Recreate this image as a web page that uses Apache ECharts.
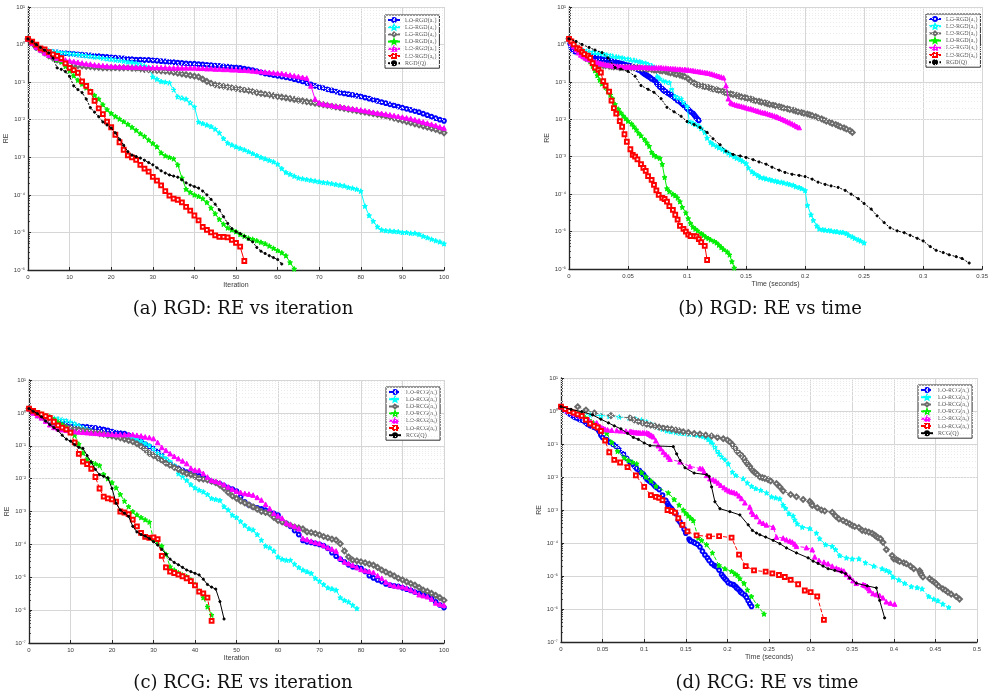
<!DOCTYPE html>
<html><head><meta charset="utf-8">
<script src="https://cdn.jsdelivr.net/npm/echarts@6/dist/echarts.min.js"></script>
<style>html,body{margin:0;padding:0;background:#fff}#c{width:991px;height:695px}</style>
</head><body><div id="c"></div>
<script>
// ---------- Names ----------
const namesRGD = ['LO-RGD(a₁)','LO-RGD(a₂)','LO-RGD(a₃)','LO-RGD(a₄)','LO-RGD(a₅)','LO-RGD(a₆)','RGD(Q)'];
const namesRCG = ['LO-RCG(a₁)','LO-RCG(a₂)','LO-RCG(a₃)','LO-RCG(a₄)','LO-RCG(a₅)','LO-RCG(a₆)','RCG(Q)'];
const captions = ['(a) RGD: RE vs iteration','(b) RGD: RE vs time','(c) RCG: RE vs iteration','(d) RCG: RE vs time'];

// ---------- RGD: log10(RE) per iteration ----------
const rgd_a1 = [0.15,0.02,-0.08,-0.13,-0.16,-0.19,-0.2,-0.21,-0.22,-0.23,
-0.24,-0.25,-0.26,-0.27,-0.28,-0.29,-0.3,-0.31,-0.32,-0.33,
-0.34,-0.35,-0.36,-0.37,-0.38,-0.39,-0.4,-0.4,-0.41,-0.41,
-0.42,-0.43,-0.44,-0.45,-0.46,-0.47,-0.48,-0.49,-0.5,-0.51,
-0.51,-0.52,-0.53,-0.54,-0.55,-0.56,-0.57,-0.58,-0.59,-0.6,
-0.61,-0.62,-0.64,-0.66,-0.68,-0.71,-0.74,-0.77,-0.79,-0.81,
-0.83,-0.85,-0.87,-0.89,-0.92,-0.95,-0.98,-1.02,-1.06,-1.1,
-1.13,-1.16,-1.19,-1.22,-1.25,-1.28,-1.3,-1.32,-1.34,-1.36,
-1.38,-1.41,-1.44,-1.47,-1.5,-1.53,-1.56,-1.59,-1.62,-1.65,
-1.68,-1.71,-1.74,-1.77,-1.8,-1.84,-1.88,-1.92,-1.96,-2.0,-2.03];
const rgd_a2 = [0.15,0.05,-0.04,-0.1,-0.13,-0.16,-0.18,-0.2,-0.21,-0.22,
-0.24,-0.25,-0.27,-0.28,-0.3,-0.31,-0.33,-0.34,-0.36,-0.38,
-0.39,-0.41,-0.42,-0.44,-0.46,-0.48,-0.5,-0.53,-0.56,-0.6,
-0.86,-0.92,-0.98,-1.0,-1.02,-1.2,-1.39,-1.42,-1.45,-1.55,
-1.66,-2.06,-2.1,-2.14,-2.18,-2.25,-2.35,-2.5,-2.62,-2.67,
-2.72,-2.76,-2.8,-2.85,-2.9,-2.95,-3.0,-3.04,-3.08,-3.12,
-3.18,-3.3,-3.4,-3.45,-3.5,-3.55,-3.57,-3.59,-3.61,-3.63,
-3.65,-3.67,-3.68,-3.7,-3.72,-3.74,-3.76,-3.8,-3.82,-3.85,
-3.9,-4.3,-4.55,-4.7,-4.85,-4.93,-4.95,-4.96,-4.97,-4.98,
-5.0,-5.0,-5.02,-5.02,-5.05,-5.1,-5.14,-5.18,-5.22,-5.25,-5.3];
const rgd_a3 = [0.15,0.03,-0.07,-0.15,-0.22,-0.3,-0.36,-0.41,-0.45,-0.49,
-0.52,-0.54,-0.56,-0.57,-0.58,-0.59,-0.6,-0.61,-0.62,-0.62,
-0.62,-0.62,-0.62,-0.62,-0.62,-0.63,-0.64,-0.65,-0.66,-0.67,
-0.68,-0.69,-0.7,-0.71,-0.72,-0.74,-0.76,-0.78,-0.8,-0.82,
-0.84,-0.86,-0.92,-0.98,-1.03,-1.07,-1.09,-1.11,-1.13,-1.15,
-1.17,-1.19,-1.21,-1.23,-1.25,-1.28,-1.3,-1.32,-1.34,-1.36,
-1.38,-1.4,-1.42,-1.44,-1.46,-1.48,-1.5,-1.52,-1.54,-1.56,
-1.58,-1.6,-1.62,-1.64,-1.66,-1.68,-1.7,-1.72,-1.74,-1.76,
-1.78,-1.8,-1.82,-1.84,-1.86,-1.88,-1.9,-1.93,-1.96,-1.99,
-2.02,-2.05,-2.08,-2.11,-2.14,-2.17,-2.2,-2.23,-2.26,-2.3,-2.35];
const rgd_a4 = [0.15,0.08,0.0,-0.1,-0.18,-0.27,-0.33,-0.4,-0.46,-0.58,
-0.7,-0.83,-0.95,-1.05,-1.15,-1.24,-1.35,-1.45,-1.6,-1.73,
-1.83,-1.91,-1.98,-2.05,-2.12,-2.2,-2.28,-2.37,-2.44,-2.54,
-2.63,-2.72,-2.88,-2.96,-3.0,-3.04,-3.2,-3.55,-3.85,-3.93,
-4.0,-4.04,-4.1,-4.2,-4.35,-4.5,-4.65,-4.78,-4.88,-4.93,
-4.98,-5.05,-5.1,-5.15,-5.18,-5.22,-5.26,-5.3,-5.36,-5.42,
-5.48,-5.54,-5.62,-5.8,-5.97];
const rgd_a5 = [0.15,0.04,-0.06,-0.14,-0.22,-0.28,-0.32,-0.36,-0.39,-0.41,
-0.43,-0.45,-0.47,-0.49,-0.51,-0.52,-0.54,-0.55,-0.56,-0.57,
-0.58,-0.58,-0.59,-0.59,-0.6,-0.6,-0.6,-0.6,-0.61,-0.61,
-0.61,-0.61,-0.61,-0.61,-0.62,-0.62,-0.62,-0.62,-0.62,-0.62,
-0.62,-0.63,-0.63,-0.64,-0.64,-0.65,-0.65,-0.66,-0.66,-0.67,
-0.67,-0.68,-0.68,-0.69,-0.7,-0.71,-0.72,-0.73,-0.74,-0.75,
-0.76,-0.77,-0.79,-0.81,-0.83,-0.85,-0.87,-0.89,-1.1,-1.45,
-1.55,-1.58,-1.6,-1.62,-1.64,-1.65,-1.67,-1.69,-1.71,-1.72,
-1.74,-1.76,-1.78,-1.8,-1.82,-1.83,-1.85,-1.87,-1.89,-1.91,
-1.93,-1.95,-1.97,-2.0,-2.03,-2.06,-2.09,-2.12,-2.15,-2.19,-2.22];
const rgd_a6 = [0.15,0.08,0.0,-0.1,-0.13,-0.2,-0.26,-0.3,-0.36,-0.5,
-0.62,-0.68,-0.75,-0.98,-1.1,-1.26,-1.5,-1.7,-1.85,-2.05,
-2.2,-2.4,-2.6,-2.8,-2.95,-3.0,-3.07,-3.2,-3.3,-3.38,
-3.52,-3.62,-3.75,-3.9,-4.02,-4.1,-4.13,-4.2,-4.32,-4.42,
-4.55,-4.68,-4.85,-4.93,-5.0,-5.08,-5.12,-5.12,-5.13,-5.2,
-5.28,-5.38,-5.76];
const rgd_Q = [0.15,0.08,0.0,-0.08,-0.15,-0.22,-0.36,-0.62,-0.66,-0.72,
-0.85,-1.1,-1.2,-1.28,-1.45,-1.68,-1.8,-1.92,-2.06,-2.14,
-2.22,-2.35,-2.52,-2.68,-2.85,-2.94,-2.98,-3.02,-3.08,-3.14,
-3.2,-3.28,-3.36,-3.42,-3.47,-3.5,-3.53,-3.6,-3.68,-3.74,
-3.78,-3.82,-3.9,-4.0,-4.12,-4.25,-4.4,-4.58,-4.76,-4.9,
-4.98,-5.03,-5.1,-5.18,-5.25,-5.4,-5.5,-5.56,-5.62,-5.67,
-5.72,-5.84];

// ---------- RGD: elapsed time per iteration (ms) ----------
const rgdT_a1 = [0,1,2,3,4,5,7,8,9,10,11,12,13,14,15,17,18,19,20,21,22,23,24,25,26,28,29,30,31,32,33,34,35,36,37,39,40,41,42,43,44,45,46,47,48,50,51,52,53,54,55,56,57,58,59,61,62,63,64,65,66,67,68,69,70,72,73,74,75,76,77,78,79,80,81,83,84,85,86,87,88,89,90,91,92,94,95,96,97,98,99,100,101,102,103,105,106,107,108,109,110];
const rgdT_a2 = [0,2,5,7,10,12,15,17,20,22,25,27,30,32,35,37,40,42,45,47,50,52,55,57,60,62,65,67,70,72,75,77,80,82,85,87,90,92,95,97,100,102,105,107,110,112,115,117,120,122,125,127,130,132,135,137,140,142,145,147,150,152,155,157,160,162,165,167,170,172,175,177,180,182,185,187,190,192,195,197,200,202,205,207,210,212,215,217,220,222,225,227,230,232,235,237,240,242,245,247,250];
const rgdT_a3 = [0,2,5,7,10,12,14,17,19,22,24,26,29,31,34,36,38,41,43,46,48,50,53,55,58,60,62,65,67,70,72,74,77,79,82,84,86,89,91,94,96,98,101,103,106,108,110,113,115,118,120,122,125,127,130,132,134,137,139,142,144,146,149,151,154,156,158,161,163,166,168,170,173,175,178,180,182,185,187,190,192,194,197,199,202,204,206,209,211,214,216,218,221,223,226,228,230,233,235,238,240];
const rgdT_a4 = [0,2,4,7,9,11,13,15,18,20,22,24,26,28,31,33,35,37,39,42,44,46,48,50,53,55,57,59,61,64,66,68,70,72,74,77,79,81,83,85,88,90,92,94,96,99,101,103,105,107,109,112,114,116,118,120,123,125,127,129,131,134,136,138,140];
const rgdT_a5 = [0,2,4,6,8,10,12,14,16,18,20,21,23,25,27,29,31,33,35,37,39,41,43,45,47,49,51,53,55,57,59,60,62,64,66,68,70,72,74,76,78,80,82,84,86,88,90,92,94,96,98,99,101,103,105,107,109,111,113,115,117,119,121,123,125,127,129,131,133,135,137,138,140,142,144,146,148,150,152,154,156,158,160,162,164,166,168,170,172,174,176,177,179,181,183,185,187,189,191,193,195];
const rgdT_a6 = [0,2,4,7,9,11,13,16,18,20,22,25,27,29,31,34,36,38,40,43,45,47,49,52,54,56,58,61,63,65,67,70,72,74,76,79,81,83,85,88,90,92,94,97,99,101,103,106,108,110,112,115,117];
const rgdT_Q = [0,6,11,17,22,28,33,39,44,50,56,61,67,72,78,83,89,95,100,106,111,117,122,128,133,139,145,150,156,161,167,172,178,183,189,195,200,206,211,217,222,228,234,239,245,250,256,261,267,272,278,284,289,295,300,306,311,317,322,328,333,339];

// ---------- RCG: log10(RE) per iteration ----------
const rcg_a1 = [0.13,0.02,-0.04,-0.1,-0.14,-0.18,-0.2,-0.23,-0.26,-0.28,
-0.33,-0.37,-0.4,-0.42,-0.43,-0.45,-0.46,-0.48,-0.5,-0.53,
-0.57,-0.6,-0.62,-0.63,-0.68,-0.73,-0.8,-0.87,-0.95,-1.02,
-1.09,-1.18,-1.3,-1.44,-1.55,-1.63,-1.69,-1.75,-1.8,-1.86,
-1.9,-1.92,-1.96,-2.02,-2.08,-2.12,-2.16,-2.22,-2.28,-2.32,
-2.38,-2.55,-2.71,-2.8,-2.86,-2.89,-2.92,-2.96,-3.01,-3.06,
-3.11,-3.3,-3.36,-3.45,-3.58,-3.7,-3.88,-3.92,-3.94,-3.97,
-4.0,-4.04,-4.12,-4.25,-4.36,-4.45,-4.53,-4.62,-4.68,-4.7,
-4.73,-4.82,-4.95,-5.02,-5.08,-5.13,-5.2,-5.24,-5.26,-5.28,
-5.32,-5.36,-5.4,-5.45,-5.49,-5.53,-5.58,-5.65,-5.75,-5.84,-5.92];
const rcg_a2 = [0.13,0.05,-0.02,-0.08,-0.12,-0.14,-0.16,-0.18,-0.21,-0.24,
-0.27,-0.33,-0.39,-0.45,-0.5,-0.55,-0.6,-0.63,-0.65,-0.67,
-0.68,-0.7,-0.71,-0.73,-0.75,-0.77,-0.8,-0.86,-0.93,-0.99,
-1.1,-1.22,-1.3,-1.39,-1.48,-1.6,-1.85,-1.95,-2.05,-2.18,
-2.28,-2.35,-2.4,-2.48,-2.6,-2.63,-2.66,-2.85,-2.95,-3.11,
-3.18,-3.3,-3.42,-3.52,-3.56,-3.7,-3.87,-4.05,-4.1,-4.2,
-4.38,-4.45,-4.48,-4.48,-4.6,-4.7,-4.78,-4.83,-4.88,-5.03,
-5.12,-5.22,-5.32,-5.35,-5.39,-5.62,-5.7,-5.75,-5.85,-5.95];
const rcg_a3 = [0.13,0.03,-0.06,-0.14,-0.21,-0.27,-0.32,-0.36,-0.4,-0.43,
-0.46,-0.49,-0.51,-0.53,-0.55,-0.58,-0.6,-0.63,-0.65,-0.68,
-0.7,-0.73,-0.76,-0.8,-0.84,-0.88,-0.94,-1.02,-1.12,-1.23,
-1.3,-1.37,-1.45,-1.53,-1.6,-1.66,-1.72,-1.79,-1.85,-1.88,
-1.93,-2.0,-2.02,-2.04,-2.08,-2.12,-2.2,-2.3,-2.42,-2.53,
-2.6,-2.68,-2.74,-2.8,-2.86,-2.93,-3.0,-3.03,-3.07,-3.18,
-3.27,-3.32,-3.37,-3.42,-3.47,-3.5,-3.53,-3.62,-3.64,-3.67,
-3.71,-3.76,-3.8,-3.84,-3.87,-3.98,-4.2,-4.38,-4.48,-4.5,
-4.53,-4.56,-4.6,-4.63,-4.7,-4.78,-4.84,-4.9,-4.96,-5.03,
-5.08,-5.14,-5.19,-5.24,-5.31,-5.39,-5.43,-5.49,-5.55,-5.62,-5.7];
const rcg_a4 = [0.13,0.06,0.0,-0.04,-0.08,-0.12,-0.2,-0.28,-0.36,-0.45,
-0.55,-0.68,-0.95,-1.22,-1.42,-1.5,-1.55,-1.6,-1.87,-2.0,
-2.12,-2.28,-2.48,-2.68,-2.85,-3.0,-3.1,-3.18,-3.25,-3.32,
-3.85,-3.92,-4.05,-4.3,-4.68,-4.78,-4.86,-4.93,-4.98,-5.08,
-5.22,-5.42,-5.62,-5.9,-6.15];
const rcg_a5 = [0.13,0.0,-0.08,-0.15,-0.25,-0.36,-0.44,-0.48,-0.51,-0.53,
-0.55,-0.57,-0.58,-0.59,-0.6,-0.61,-0.62,-0.63,-0.64,-0.65,
-0.65,-0.66,-0.66,-0.66,-0.66,-0.66,-0.68,-0.7,-0.73,-0.75,
-0.78,-0.9,-1.05,-1.14,-1.24,-1.32,-1.39,-1.46,-1.54,-1.68,
-1.74,-1.75,-1.84,-1.95,-2.05,-2.08,-2.12,-2.18,-2.25,-2.32,
-2.38,-2.42,-2.45,-2.47,-2.5,-2.57,-2.65,-2.78,-2.91,-3.05,
-3.13,-3.2,-3.35,-3.4,-3.45,-3.52,-3.82,-3.85,-3.9,-3.94,
-3.97,-4.03,-4.1,-4.14,-4.2,-4.42,-4.53,-4.58,-4.63,-4.7,
-4.76,-4.8,-4.82,-4.85,-4.95,-5.03,-5.14,-5.22,-5.26,-5.28,
-5.29,-5.33,-5.38,-5.44,-5.53,-5.56,-5.59,-5.66,-5.78,-5.82,-5.85];
const rcg_a6 = [0.13,0.06,0.0,-0.05,-0.1,-0.15,-0.27,-0.38,-0.45,-0.5,
-0.6,-0.9,-1.25,-1.48,-1.56,-1.7,-1.95,-2.3,-2.55,-2.6,
-2.63,-2.7,-3.0,-3.03,-3.08,-3.25,-3.45,-3.65,-3.77,-3.8,
-3.79,-3.84,-4.35,-4.7,-4.83,-4.87,-4.92,-4.97,-5.03,-5.12,
-5.25,-5.44,-5.49,-5.62,-6.33];
const rcg_Q = [0.13,0.05,-0.02,-0.12,-0.25,-0.36,-0.45,-0.54,-0.68,-0.8,
-0.86,-0.97,-1.05,-1.08,-1.3,-1.5,-1.72,-1.88,-1.93,-1.98,
-2.3,-2.75,-2.96,-3.05,-3.15,-3.45,-3.62,-3.7,-3.75,-3.82,
-3.92,-4.02,-4.15,-4.3,-4.45,-4.55,-4.62,-4.7,-4.78,-4.83,
-4.88,-4.93,-5.06,-5.22,-5.3,-5.36,-5.74,-6.27];

// ---------- RCG: elapsed time per iteration (s) ----------
const rcgT_a1 = [0,0.005,0.008,0.011,0.014,0.016,0.018,0.021,0.023,0.026,
0.029,0.031,0.032,0.034,0.035,0.036,0.038,0.039,0.041,0.043,
0.045,0.046,0.046,0.047,0.048,0.048,0.05,0.055,0.059,0.063,
0.067,0.07,0.075,0.079,0.083,0.087,0.089,0.091,0.094,0.096,
0.098,0.099,0.1,0.102,0.104,0.106,0.108,0.111,0.113,0.115,
0.118,0.122,0.126,0.128,0.129,0.13,0.131,0.133,0.134,0.136,
0.138,0.141,0.143,0.145,0.148,0.15,0.154,0.155,0.156,0.159,
0.161,0.164,0.167,0.17,0.173,0.176,0.178,0.181,0.184,0.186,
0.188,0.19,0.193,0.195,0.197,0.199,0.201,0.204,0.207,0.208,
0.21,0.211,0.213,0.215,0.216,0.218,0.221,0.223,0.225,0.227,0.229];
const rcgT_a2 = [0,0.006,0.012,0.022,0.035,0.048,0.058,0.07,0.082,0.09,
0.097,0.103,0.108,0.113,0.118,0.122,0.127,0.132,0.138,0.143,
0.148,0.154,0.16,0.164,0.168,0.171,0.174,0.177,0.18,0.182,
0.185,0.188,0.19,0.193,0.197,0.201,0.206,0.21,0.219,0.224,
0.229,0.234,0.24,0.247,0.253,0.258,0.263,0.267,0.27,0.274,
0.279,0.281,0.284,0.29,0.299,0.307,0.311,0.318,0.326,0.33,
0.335,0.343,0.35,0.358,0.366,0.376,0.386,0.391,0.395,0.399,
0.406,0.413,0.421,0.428,0.434,0.442,0.448,0.453,0.459,0.466];
const rcgT_a3 = [0.02,0.03,0.04,0.06,0.083,0.088,0.093,0.098,0.103,0.108,
0.113,0.118,0.123,0.128,0.133,0.138,0.142,0.147,0.153,0.16,
0.167,0.174,0.181,0.188,0.195,0.2,0.203,0.206,0.209,0.212,
0.215,0.218,0.22,0.222,0.224,0.226,0.228,0.23,0.232,0.234,
0.236,0.239,0.242,0.245,0.249,0.252,0.259,0.263,0.267,0.276,
0.283,0.291,0.299,0.301,0.302,0.308,0.313,0.317,0.326,0.33,
0.334,0.339,0.343,0.347,0.35,0.353,0.358,0.362,0.366,0.37,
0.374,0.377,0.379,0.381,0.384,0.387,0.391,0.398,0.4,0.403,
0.405,0.407,0.412,0.415,0.42,0.424,0.431,0.432,0.433,0.435,
0.443,0.446,0.449,0.451,0.454,0.459,0.462,0.465,0.469,0.475,0.479];
const rcgT_a4 = [0,0.005,0.01,0.015,0.02,0.024,0.029,0.034,0.039,0.043,
0.049,0.055,0.061,0.068,0.076,0.081,0.086,0.091,0.097,0.102,
0.108,0.114,0.129,0.136,0.142,0.147,0.15,0.153,0.156,0.159,
0.165,0.169,0.175,0.182,0.19,0.197,0.205,0.209,0.212,0.215,
0.22,0.224,0.229,0.236,0.244];
const rcgT_a5 = [0,0.008,0.016,0.023,0.033,0.043,0.045,0.047,0.049,0.051,
0.053,0.056,0.061,0.067,0.072,0.078,0.083,0.085,0.087,0.089,
0.091,0.093,0.095,0.098,0.1,0.103,0.105,0.106,0.108,0.109,
0.111,0.114,0.117,0.12,0.123,0.126,0.129,0.131,0.143,0.155,
0.167,0.17,0.172,0.175,0.179,0.183,0.186,0.189,0.192,0.196,
0.199,0.202,0.205,0.208,0.211,0.214,0.217,0.221,0.227,0.229,
0.231,0.235,0.239,0.243,0.247,0.255,0.259,0.267,0.271,0.275,
0.278,0.281,0.283,0.295,0.302,0.305,0.31,0.316,0.321,0.326,
0.331,0.334,0.337,0.34,0.343,0.347,0.351,0.355,0.363,0.365,
0.366,0.368,0.37,0.371,0.375,0.379,0.383,0.387,0.391,0.396,0.401];
const rcgT_a6 = [0,0.005,0.01,0.015,0.02,0.025,0.03,0.035,0.04,0.044,
0.048,0.053,0.058,0.064,0.071,0.08,0.09,0.1,0.108,0.114,
0.118,0.122,0.128,0.133,0.137,0.141,0.146,0.152,0.163,0.178,
0.19,0.205,0.214,0.222,0.232,0.246,0.254,0.262,0.269,0.276,
0.285,0.293,0.3,0.308,0.316];
const rcgT_Q = [0,0.012,0.025,0.038,0.048,0.057,0.064,0.072,0.08,0.087,
0.093,0.1,0.107,0.135,0.139,0.143,0.149,0.16,0.175,0.178,
0.181,0.185,0.191,0.203,0.215,0.225,0.23,0.235,0.239,0.246,
0.255,0.263,0.271,0.283,0.297,0.303,0.309,0.315,0.321,0.329,
0.337,0.342,0.347,0.355,0.368,0.379,0.383,0.389];

// ---------- build ----------
const RGD_Y = [rgd_a1, rgd_a2, rgd_a3, rgd_a4, rgd_a5, rgd_a6, rgd_Q];
const RGD_T = [rgdT_a1, rgdT_a2, rgdT_a3, rgdT_a4, rgdT_a5, rgdT_a6, rgdT_Q].map(a => a.map(v => v / 1000));
const RCG_Y = [rcg_a1, rcg_a2, rcg_a3, rcg_a4, rcg_a5, rcg_a6, rcg_Q];
const RCG_T = [rcgT_a1, rcgT_a2, rcgT_a3, rcgT_a4, rcgT_a5, rcgT_a6, rcgT_Q];

const STAR = 'path://M0,-10L2.6,-3.6L9.5,-3.1L4.2,1.4L5.9,8.1L0,4.4L-5.9,8.1L-4.2,1.4L-9.5,-3.1L-2.6,-3.6Z';
const styles = [
  {color:'#0000ff', symbol:'emptyCircle', size:3.8},
  {color:'#00ffff', symbol:STAR, size:4.8},
  {color:'#6b6b6b', symbol:'emptyDiamond', size:4.8},
  {color:'#00ee00', symbol:STAR, size:4.8},
  {color:'#ff00ff', symbol:'triangle', size:4.6},
  {color:'#ff0000', symbol:'emptyRect', size:3.8},
  {color:'#000000', symbol:'circle', size:2.2}
];

const SUP = {'-':'⁻','0':'⁰','1':'¹','2':'²','3':'³','4':'⁴','5':'⁵','6':'⁶','7':'⁷','8':'⁸','9':'⁹'};
const supStr = n => String(n).split('').map(c => SUP[c]).join('');
const LBL = {fontSize:6, color:'#3a3a3a', fontFamily:'Liberation Sans'};
const GRIDC = '#d6d6d6';

const grids = [
  {left:28, top:7, width:416, height:263},
  {left:569, top:7, width:415, height:262},
  {left:29, top:380, width:415, height:263},
  {left:561, top:378, width:416, height:264}
];
const minExp = [-6,-6,-7,-7];

function xAx(gi, max, interval, name) {
  return {type:'value', gridIndex:gi, min:0, max:max, interval:interval, name:name,
    nameLocation:'middle', nameGap:12, nameTextStyle:{fontSize:7, color:'#3a3a3a', fontFamily:'Liberation Sans'},
    axisLine:{onZero:false, lineStyle:{color:'#262626', width:1.3}},
    axisTick:{inside:true, length:3, lineStyle:{color:'#262626'}},
    axisLabel:Object.assign({margin:4, formatter: v => String(+v.toFixed(2))}, LBL),
    splitLine:{show:true, lineStyle:{color:GRIDC, width:1}}};
}
function yAx(gi) {
  const me = minExp[gi];
  return {type:'log', logBase:10, gridIndex:gi, min:Math.pow(10, me), max:10, splitNumber:1 - me,
    name:'RE', nameLocation:'middle', nameGap:18, nameTextStyle:{fontSize:7, color:'#3a3a3a', fontFamily:'Liberation Sans'},
    axisLine:{show:true, lineStyle:{color:'#262626', width:1.3}},
    axisTick:{show:true, inside:true, length:3, lineStyle:{color:'#262626'}},
    minorTick:{show:true, splitNumber:9, length:2, lineStyle:{color:'#262626', width:0.8}},
    axisLabel:Object.assign({margin:3, formatter: v => '10' + supStr(Math.round(Math.log10(v)))}, LBL),
    splitLine:{show:true, lineStyle:{color:GRIDC, width:1}}};
}
function minorLines(gi) {
  const out = [];
  for (let e = minExp[gi]; e < 1; e++) for (let k = 2; k <= 9; k++) out.push({yAxis: k * Math.pow(10, e)});
  return {silent:true, symbol:'none', label:{show:false}, animation:false,
    lineStyle:{color:'#ececec', type:[1,2], width:1}, data: out};
}

const series = [];
function addPanel(gi, names, Ys, Xs, dashed) {
  Ys.forEach((ys, k) => {
    const xs = Xs ? Xs[k] : null;
    const n = xs ? Math.min(xs.length, ys.length) : ys.length;
    const data = [];
    for (let i = 0; i < n; i++) data.push([xs ? xs[i] : i, Math.pow(10, ys[i])]);
    const st = styles[k];
    let ltype = 'solid';
    if (k === 6) ltype = dashed ? 'solid' : [2, 1.5];
    else if (dashed) ltype = [4, 2];
    const s = {type:'line', name:names[k], xAxisIndex:gi, yAxisIndex:gi, data:data,
      symbol:st.symbol, symbolSize:st.size, showSymbol:true, showAllSymbol:true,
      lineStyle:{color:st.color, width:1, type:ltype},
      itemStyle:{color:st.color, borderColor:st.color, borderWidth:1},
      emphasis:{disabled:true}, animation:false, z: 2 + k};
    if (k === 0) s.markLine = minorLines(gi);
    series.push(s);
  });
}
addPanel(0, namesRGD, RGD_Y, null, false);
addPanel(1, namesRGD, RGD_Y, RGD_T, false);
addPanel(2, namesRCG, RCG_Y, null, true);
addPanel(3, namesRCG, RCG_Y, RCG_T, true);

function legend(left, top, names) {
  return {left:left, top:top, orient:'vertical', data:names, selectedMode:false,
    itemWidth:12, itemHeight:5, itemGap:1.2, padding:[2,3,2,2],
    borderColor:'#333', borderWidth:1, backgroundColor:'#fff',
    textStyle:{fontFamily:'Liberation Serif', fontSize:6, color:'#555', lineHeight:6}};
}
function cap(text, cx, top) {
  return {text:text, left:cx, top:top, textAlign:'center', padding:0,
    textStyle:{fontFamily:'DejaVu Serif', fontSize:18, fontWeight:'normal', color:'#111'}};
}

const option = {
  animation:false,
  backgroundColor:'#fff',
  title:[cap(captions[0], 243, 300), cap(captions[1], 770, 300), cap(captions[2], 243, 674), cap(captions[3], 767, 674)],
  grid:grids,
  xAxis:[xAx(0, 100, 10, 'Iteration'), xAx(1, 0.35, 0.05, 'Time (seconds)'), xAx(2, 100, 10, 'Iteration'), xAx(3, 0.5, 0.05, 'Time (seconds)')],
  yAxis:[yAx(0), yAx(1), yAx(2), yAx(3)],
  legend:[legend(385, 15, namesRGD), legend(926, 14, namesRGD), legend(386, 387, namesRCG), legend(918, 385, namesRCG)],
  series:series
};
const chart = echarts.init(document.getElementById('c'), null, {renderer:'canvas'});
chart.setOption(option);
</script></body></html>
